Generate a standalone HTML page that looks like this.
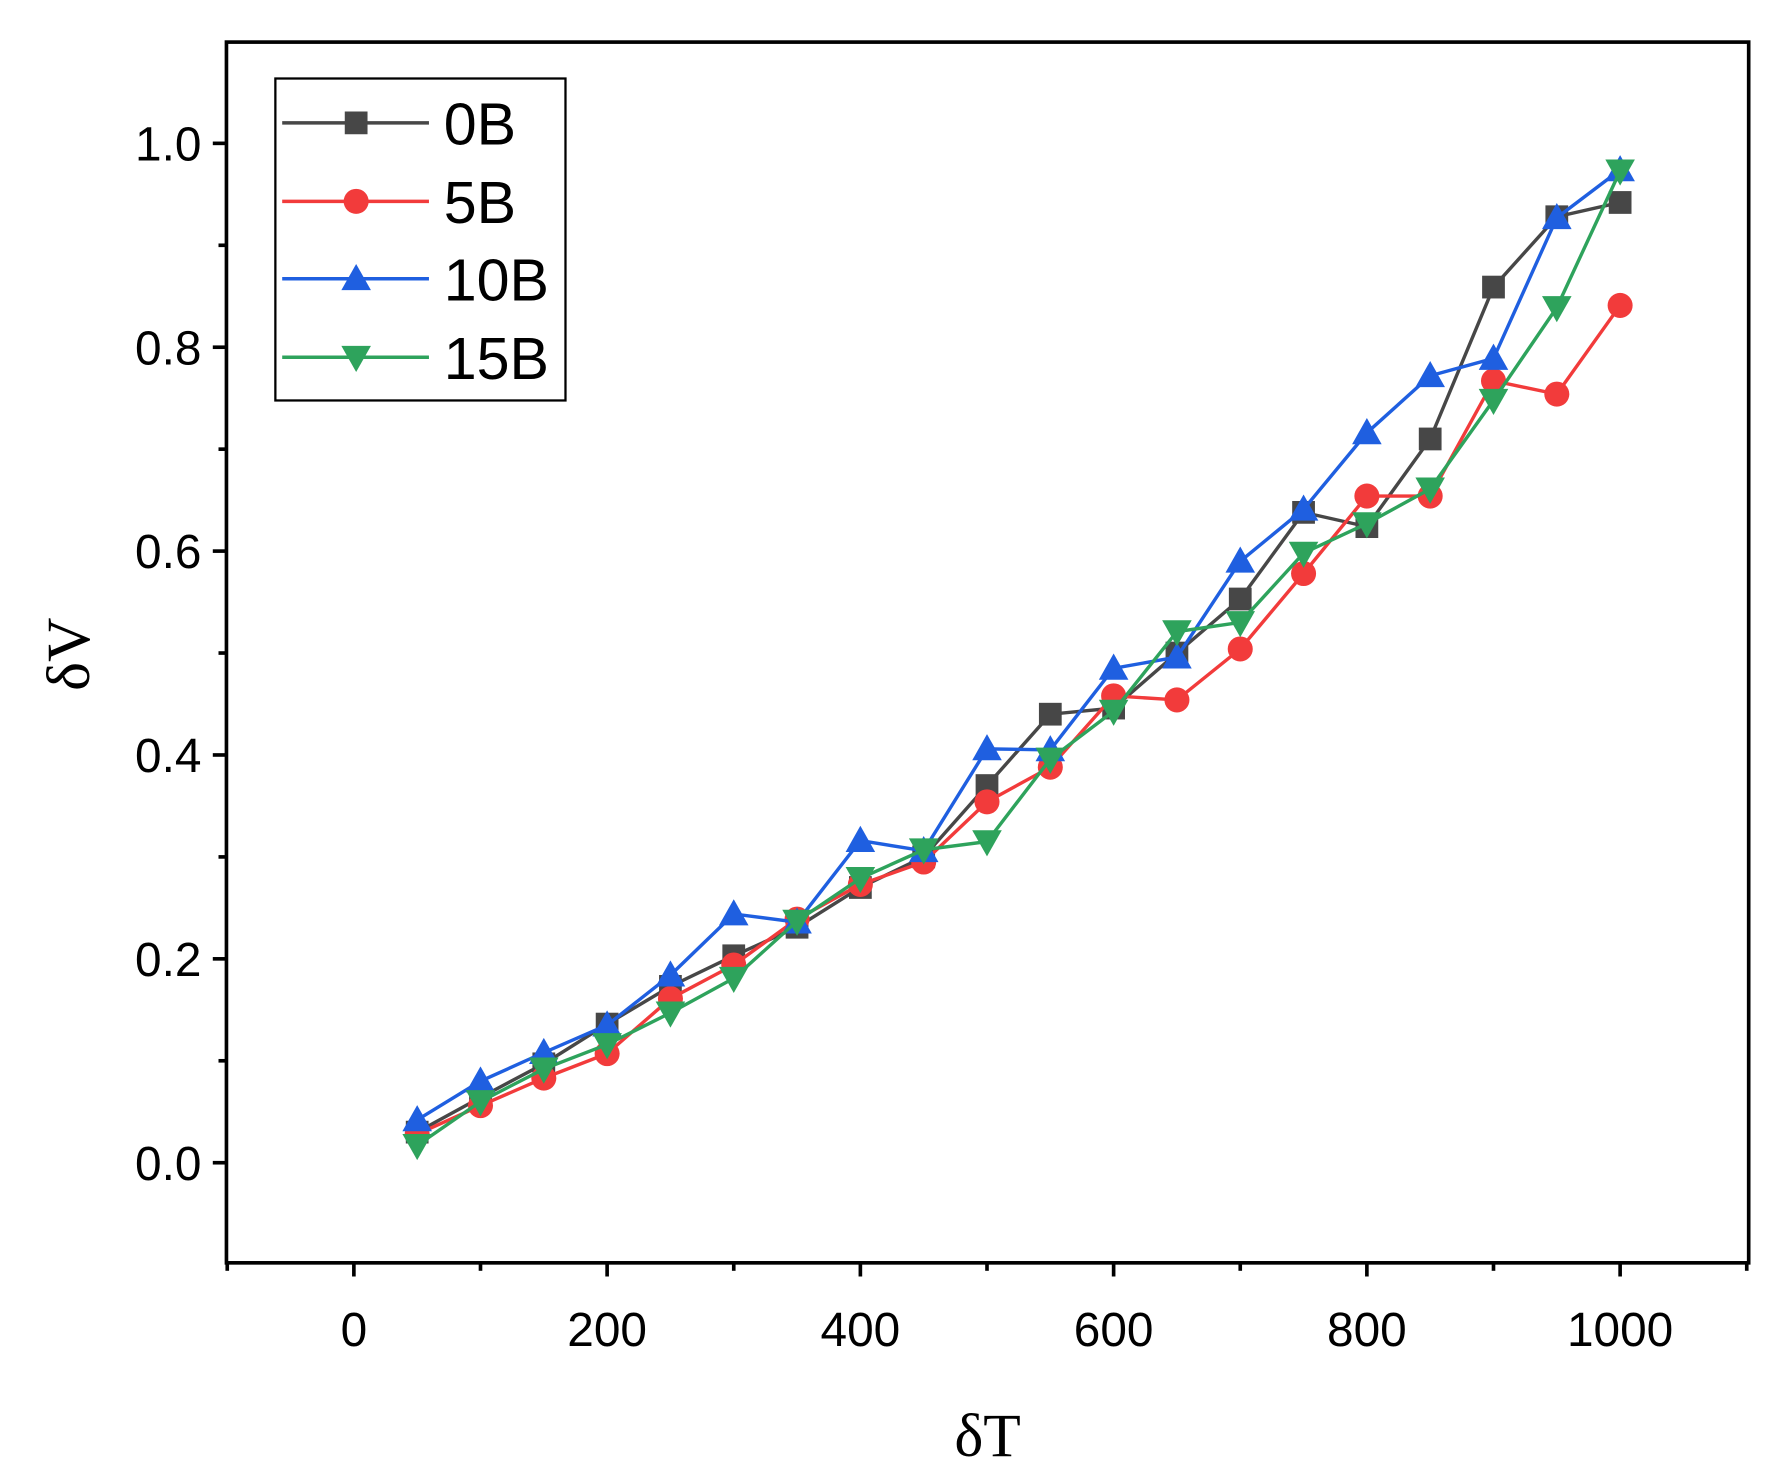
<!DOCTYPE html>
<html><head><meta charset="utf-8"><style>
html,body{margin:0;padding:0;background:#fff;}
svg{display:block;}
</style></head><body>
<svg id="s" width="1784" height="1479" viewBox="0 0 1568 1300" xmlns="http://www.w3.org/2000/svg" font-family="Liberation Sans, Arial, sans-serif">
<rect width="1568" height="1300" fill="#fff"/>
</svg>
<script>
const s=document.getElementById('s');
const NS='http://www.w3.org/2000/svg';
function el(t,a,txt){const e=document.createElementNS(NS,t);for(const k in a)e.setAttribute(k,a[k]);if(txt!==undefined)e.textContent=txt;s.appendChild(e);return e;}
const X=v=>311+v*1.113, Y=v=>1022-v*896;
const xs=[];for(let i=1;i<=20;i++)xs.push(i*50);
const D={
'0B':{c:'#474747',m:'sq',v:[0.03,0.064,0.097,0.136,0.173,0.203,0.231,0.27,0.30,0.37,0.44,0.446,0.50,0.553,0.638,0.624,0.71,0.859,0.928,0.942]},
'5B':{c:'#f23b3b',m:'ci',v:[0.028,0.056,0.083,0.107,0.161,0.194,0.239,0.273,0.295,0.354,0.388,0.458,0.454,0.504,0.578,0.654,0.654,0.767,0.754,0.841]},
'10B':{c:'#1f5fe0',m:'tu',v:[0.042,0.08,0.108,0.135,0.184,0.244,0.236,0.316,0.306,0.406,0.405,0.485,0.496,0.59,0.641,0.716,0.772,0.789,0.927,0.974]},
'15B':{c:'#2ea35c',m:'td',v:[0.017,0.06,0.092,0.116,0.147,0.181,0.237,0.279,0.307,0.315,0.396,0.443,0.521,0.53,0.598,0.627,0.661,0.748,0.839,0.973]}
};
function marker(m,x,y,c){
 if(m==='sq')el('rect',{x:x-10,y:y-10,width:20,height:20,fill:c});
 else if(m==='ci')el('circle',{cx:x,cy:y,r:11,fill:c});
 else if(m==='tu')el('polygon',{points:`${x},${y-13} ${x-13},${y+10} ${x+13},${y+10}`,fill:c});
 else el('polygon',{points:`${x},${y+13} ${x-13},${y-10} ${x+13},${y-10}`,fill:c});
}
for(const k in D){const d=D[k];
 el('polyline',{points:xs.map((x,i)=>X(x)+','+Y(d.v[i])).join(' '),fill:'none',stroke:d.c,'stroke-width':3});
 xs.forEach((x,i)=>marker(d.m,X(x),Y(d.v[i]),d.c));
}
el('rect',{x:199,y:37,width:1338,height:1073,fill:'none',stroke:'#000','stroke-width':3.2});
for(let i=-1;i<=11;i++){const y=Y(i/10);if(y<37||y>1110)continue;const maj=i%2===0;
 el('line',{x1:199,x2:maj?187:192,y1:y,y2:y,stroke:'#000','stroke-width':3.2});
 if(maj&&i>=0&&i<=10)el('text',{x:177,y:y+15,'text-anchor':'end','font-size':42},(i/10).toFixed(1));}
for(let v=-100;v<=1100;v+=100){const x=X(v);if(x<198||x>1538)continue;const maj=v%200===0;
 el('line',{x1:x,x2:x,y1:1110,y2:maj?1122:1117,stroke:'#000','stroke-width':3.2});
 if(maj)el('text',{x:x,y:1183,'text-anchor':'middle','font-size':42},String(v));}
el('text',{x:868,y:1280,'text-anchor':'middle','font-size':54,'font-family':'Liberation Serif, serif'},'δT');
el('text',{x:0,y:0,'text-anchor':'middle','font-size':54,'font-family':'Liberation Serif, serif',transform:'translate(78,575) rotate(-90)'},'δV');
el('rect',{x:242,y:69,width:255,height:283,fill:'#fff',stroke:'#000','stroke-width':2});
const ly=[108,177,245,314];let i=0;
for(const k in D){const d=D[k],y=ly[i++];
 el('line',{x1:248,x2:377,y1:y,y2:y,stroke:d.c,'stroke-width':3});
 marker(d.m,313,y,d.c);
 el('text',{x:390,y:y+19,'font-size':52},k);}
</script>
</body></html>
